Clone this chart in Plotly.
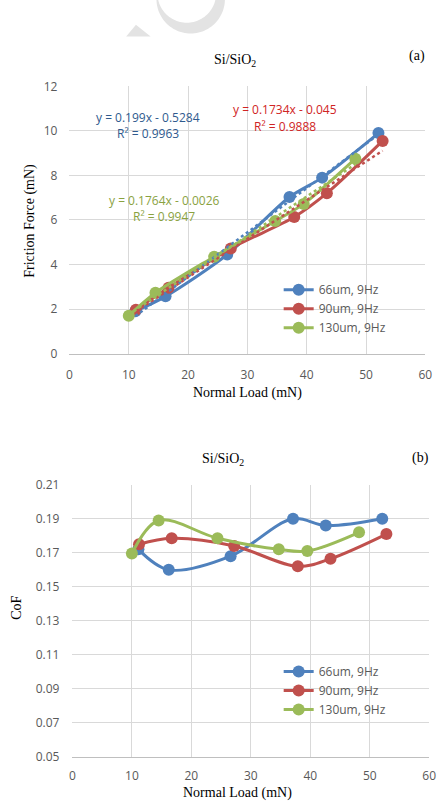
import math
import plotly.graph_objects as go

W, H = 446, 804

# ---------------- data ----------------
series_names = ["66um, 9Hz", "90um, 9Hz", "130um, 9Hz"]
load_66 = [11.1, 16.2, 26.6, 37.1, 42.6, 52.1]
load_90 = [11.2, 16.7, 27.2, 37.9, 43.4, 52.8]
load_130 = [10.0, 14.5, 24.4, 34.7, 39.5, 48.2]

friction_66 = [1.9, 2.57, 4.45, 7.03, 7.9, 9.9]
friction_90 = [1.97, 2.95, 4.72, 6.13, 7.2, 9.55]
friction_130 = [1.7, 2.73, 4.35, 5.95, 6.72, 8.75]

cof_66 = [0.172, 0.160, 0.168, 0.190, 0.186, 0.190]
cof_90 = [0.175, 0.1785, 0.174, 0.162, 0.1665, 0.181]
cof_130 = [0.1695, 0.189, 0.1785, 0.172, 0.171, 0.182]

# linear trendline coefficients (slope, intercept, R2)
trend_66 = (0.199, -0.5284, 0.9963)
trend_90 = (0.1734, -0.045, 0.9888)
trend_130 = (0.1764, -0.0026, 0.9947)

x_ticks = [0, 10, 20, 30, 40, 50, 60]
ff_ticks = [0, 2, 4, 6, 8, 10, 12]
cof_ticks = [0.05, 0.07, 0.09, 0.11, 0.13, 0.15, 0.17, 0.19, 0.21]

colors = ["#4F81BD", "#C0504D", "#9BBB59"]
eq_colors = ["#2F5A8E", "#D02424", "#8AA23F"]

# ---------------- helpers (page px -> paper) ----------------
def px(x):
    return x / W

def py(y):
    return 1 - y / H

fig = go.Figure()

loads = [load_66, load_90, load_130]
frictions = [friction_66, friction_90, friction_130]
cofs = [cof_66, cof_90, cof_130]
trends = [trend_66, trend_90, trend_130]

for i in range(3):
    fig.add_trace(go.Scatter(
        x=loads[i], y=frictions[i], mode="lines+markers", name=series_names[i],
        line=dict(color=colors[i], width=3, shape="spline", smoothing=0.8),
        marker=dict(color=colors[i], size=12),
        xaxis="x", yaxis="y", legend="legend"))

for i in range(3):
    m, b, r2 = trends[i]
    xs = [min(loads[i]), max(loads[i])]
    ys = [m * v + b for v in xs]
    fig.add_trace(go.Scatter(
        x=xs, y=ys, mode="lines", showlegend=False,
        line=dict(color=colors[i], width=2.5, dash="dot"),
        xaxis="x", yaxis="y", hoverinfo="skip"))

for i in range(3):
    fig.add_trace(go.Scatter(
        x=loads[i], y=cofs[i], mode="lines+markers", name=series_names[i],
        line=dict(color=colors[i], width=3, shape="spline", smoothing=1.0),
        marker=dict(color=colors[i], size=12),
        xaxis="x2", yaxis="y2", legend="legend2"))

tickfont = dict(family="Open Sans", size=12, color="#595959")
grid = "#D9D9D9"

common_x = dict(range=[0, 60], tickvals=x_ticks, showgrid=True, gridcolor=grid,
                gridwidth=1, zeroline=False, showline=True, linecolor="#BFBFBF",
                linewidth=1, tickfont=tickfont, ticks="", fixedrange=True)

# plot areas in page pixels
top = dict(l=68, r=432, t=79, b=352)
bot = dict(l=71, r=436, t=486, b=764)

legfont = dict(family="Open Sans", size=12, color="#595959")

fig.update_layout(
    width=W, height=H, autosize=False,
    margin=dict(l=0, r=0, t=0, b=0, pad=0),
    paper_bgcolor="white", plot_bgcolor="white",
    showlegend=True,
    xaxis=dict(domain=[px(top["l"]), px(top["r"])], anchor="y",
               ticklabelstandoff=10, **common_x),
    yaxis=dict(domain=[py(top["b"]), py(top["t"])], anchor="x", range=[0, 12],
               tickvals=ff_ticks, showgrid=True, gridcolor=grid, zeroline=False,
               showline=False, tickfont=tickfont, ticks="", ticklabelstandoff=11),
    xaxis2=dict(domain=[px(bot["l"]), px(bot["r"])], anchor="y2",
                ticklabelstandoff=8, **common_x),
    yaxis2=dict(domain=[py(bot["b"]), py(bot["t"])], anchor="x2", range=[0.05, 0.21],
                tickvals=cof_ticks, tickformat=".2f", showgrid=True, gridcolor=grid,
                zeroline=False, showline=False, tickfont=tickfont, ticks="",
                ticklabelstandoff=12),
    legend=dict(x=px(282), y=py(272), xanchor="left", yanchor="top",
                bgcolor="rgba(0,0,0,0)", font=legfont, tracegroupgap=0, itemclick=False),
    legend2=dict(x=px(282), y=py(662), xanchor="left", yanchor="top",
                 bgcolor="rgba(0,0,0,0)", font=legfont, tracegroupgap=0, itemclick=False),
)

serif = dict(family="Liberation Serif", size=14, color="#000000")
eqfont = dict(family="Open Sans", size=12)

def add_text(text, x, y, font, angle=0):
    fig.add_annotation(text=text, x=px(x), y=py(y), xref="paper", yref="paper",
                       showarrow=False, xanchor="center", yanchor="middle",
                       textangle=angle, font=font)

add_text("Si/SiO<sub>2</sub>", 237, 53, serif)
add_text("(a)", 424, 48, serif)
add_text("Normal Load (mN)", 250, 392, serif)
add_text("Si/SiO<sub>2</sub>", 225, 460, serif)
add_text("(b)", 427, 459, serif)
add_text("Normal Load (mN)", 240, 801, serif)
add_text("Friction Force (mN)", 28, 216, serif, -90)
add_text("CoF", 13, 612, serif, -90)

eq_pos = [((148, 111), (148, 127)), ((288, 103), (288, 120)), ((165, 196), (165, 212))]
for i in range(3):
    m, b, r2 = trends[i]
    sign = "-" if b < 0 else "+"
    eq = f"y = {m:g}x {sign} {abs(b):g}"
    (ex, ey), (rx, ry) = eq_pos[i]
    add_text(eq, ex, ey, dict(color=eq_colors[i], **eqfont))
    add_text(f"R² = {r2:g}", rx, ry, dict(color=eq_colors[i], **eqfont))

# faint watermark fragment at top of page
def circle_pts(cx, cy, r, a0, a1, n=60):
    return [(cx + r * math.cos(math.radians(a0 + (a1 - a0) * k / n)),
             cy + r * math.sin(math.radians(a0 + (a1 - a0) * k / n))) for k in range(n + 1)]

outer = circle_pts(192, -10, 35, -10, 190)
inner = circle_pts(188, -16, 30, 190, -10)
pts = outer + inner
path = "M" + " L".join(f"{px(x):.5f},{py(y):.5f}" for x, y in pts) + " Z"
fig.add_shape(type="path", path=path, xref="paper", yref="paper",
              fillcolor="#E3E3E3", line=dict(width=0), layer="below")
tri = [(126, 28), (136, 16), (151, 28)]
path2 = "M" + " L".join(f"{px(x):.5f},{py(y):.5f}" for x, y in tri) + " Z"
fig.add_shape(type="path", path=path2, xref="paper", yref="paper",
              fillcolor="#E3E3E3", line=dict(width=0), layer="below")

fig.write_html("out.html")
